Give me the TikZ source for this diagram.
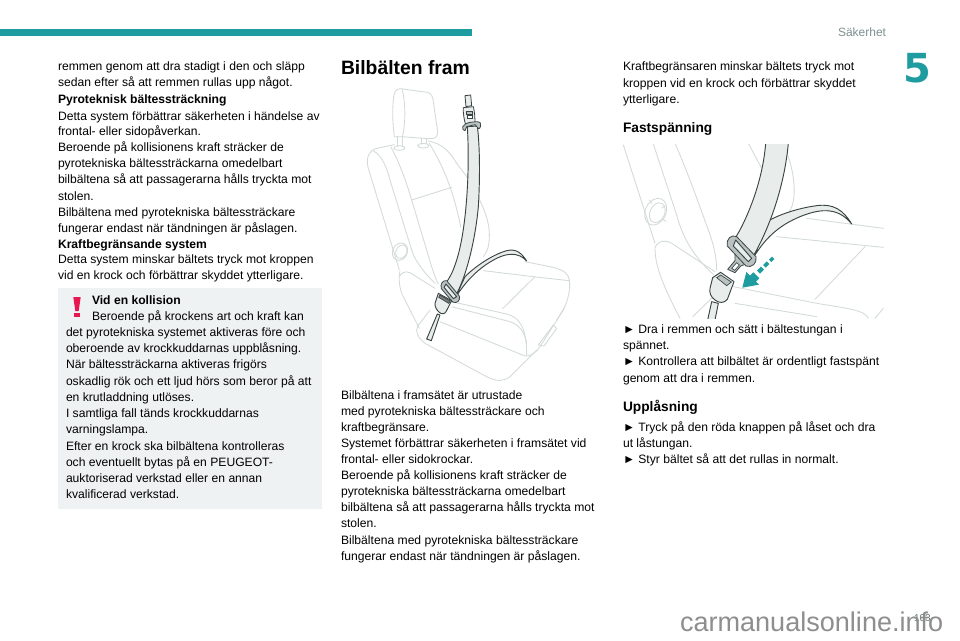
\documentclass[tikz,border=0pt]{standalone}
\usepackage{fontspec}
\setmainfont{Liberation Sans}
\newfontfamily\chapfont{DejaVu Sans}
\definecolor{teal5}{HTML}{1F9CA0}
\definecolor{note}{HTML}{EFF2F3}
\definecolor{seat}{HTML}{D3DBD8}
\definecolor{belt}{HTML}{E8ECEA}
\definecolor{dk}{HTML}{3A4444}
\definecolor{metal}{HTML}{B9C2C0}
\definecolor{sectxt}{HTML}{7F8F90}
\definecolor{wm}{HTML}{8E8E8E}
\definecolor{warn}{HTML}{E8174F}
\newcounter{tl}
\newcommand{\tl}[3]{\stepcounter{tl}\node[tx] (t\thetl) at (#1,#2) {#3};}
\newcommand{\hl}[3]{\stepcounter{tl}\node[hd] (t\thetl) at (#1,#2) {#3};}
\tikzset{
 every node/.style={inner sep=0,outer sep=0,anchor=base west},
 tx/.style={font=\fontsize{9.1pt}{9pt}\selectfont,text=black},
 hd/.style={font=\fontsize{9.1pt}{9pt}\selectfont\bfseries,text=black},
 h2/.style={font=\fontsize{10.3pt}{10pt}\selectfont\bfseries,text=black},
 seatline/.style={draw=seat,line width=.65pt,line join=round,line cap=round},
 beltline/.style={draw=dk,fill=belt,line width=.7pt,line join=round},
 metalpart/.style={draw=dk,fill=metal,line width=.6pt,line join=round},
 zoomA/.style={shift={(340,80)},x=0.25pt,y=-0.25pt},
 zoomB/.style={shift={(620,140)},x=0.25pt,y=-0.25pt},
}
\begin{document}
\begin{tikzpicture}[x=0.75pt,y=-0.75pt]
\useasboundingbox (0,0) rectangle (960,640);
\fill[white] (0,0) rectangle (960,640);
\fill[teal5] (0,29) rectangle (472,36);
\node[font=\fontsize{9pt}{9pt}\selectfont,text=sectxt] (sec) at (838,36) {Säkerhet};
\node[font=\chapfont\bfseries\fontsize{30pt}{30pt}\selectfont,text=teal5] (chap) at (903,82) {5};
% left column
\tl{58}{70}{remmen genom att dra stadigt i den och släpp}
\tl{58}{86}{sedan efter så att remmen rullas upp något.}
\hl{58}{103}{Pyroteknisk bältessträckning}
\tl{58}{120}{Detta system förbättrar säkerheten i händelse av}
\tl{58}{135}{frontal- eller sidopåverkan.}
\tl{58}{151}{Beroende på kollisionens kraft sträcker de}
\tl{58}{167}{pyrotekniska bältessträckarna omedelbart}
\tl{58}{183}{bilbältena så att passagerarna hålls tryckta mot}
\tl{58}{200}{stolen.}
\tl{58}{216}{Bilbältena med pyrotekniska bältessträckare}
\tl{58}{232}{fungerar endast när tändningen är påslagen.}
\hl{58}{248}{Kraftbegränsande system}
\tl{58}{263}{Detta system minskar bältets tryck mot kroppen}
\tl{58}{279}{vid en krock och förbättrar skyddet ytterligare.}
% note
\fill[note] (58,288) rectangle (322,509);
\fill[warn] (73.3,297) -- (80.7,297) -- (78.7,311) -- (75.3,311) -- cycle;
\fill[warn] (74.2,313) rectangle (80,317);
\hl{92}{304}{Vid en kollision}
\tl{92}{320}{Beroende på krockens art och kraft kan}
\tl{66}{336}{det pyrotekniska systemet aktiveras före och}
\tl{66}{352}{oberoende av krockkuddarnas uppblåsning.}
\tl{66}{368}{När bältessträckarna aktiveras frigörs}
\tl{66}{385}{oskadlig rök och ett ljud hörs som beror på att}
\tl{66}{401}{en krutladdning utlöses.}
\tl{66}{417}{I samtliga fall tänds krockkuddarnas}
\tl{66}{433}{varningslampa.}
\tl{66}{450}{Efter en krock ska bilbältena kontrolleras}
\tl{66}{466}{och eventuellt bytas på en PEUGEOT-}
\tl{66}{482}{auktoriserad verkstad eller en annan}
\tl{66}{498}{kvalificerad verkstad.}
% middle column
\node[font=\fontsize{14.5pt}{15pt}\selectfont\bfseries] (title) at (341,74) {Bilbälten fram};
\tl{341}{399}{Bilbältena i framsätet är utrustade}
\tl{341}{415}{med pyrotekniska bältessträckare och}
\tl{341}{431}{kraftbegränsare.}
\tl{341}{447}{Systemet förbättrar säkerheten i framsätet vid}
\tl{341}{463}{frontal- eller sidokrockar.}
\tl{341}{479}{Beroende på kollisionens kraft sträcker de}
\tl{341}{495}{pyrotekniska bältessträckarna omedelbart}
\tl{341}{511}{bilbältena så att passagerarna hålls tryckta mot}
\tl{341}{527}{stolen.}
\tl{341}{544}{Bilbältena med pyrotekniska bältessträckare}
\tl{341}{560}{fungerar endast när tändningen är påslagen.}
% right column
\tl{623}{70}{Kraftbegränsaren minskar bältets tryck mot}
\tl{623}{87}{kroppen vid en krock och förbättrar skyddet}
\tl{623}{103}{ytterligare.}
\node[h2] (fast) at (623,132) {Fastspänning};
\tl{623}{333}{► Dra i remmen och sätt i bältestungan i}
\tl{623}{349}{spännet.}
\tl{623}{365}{► Kontrollera att bilbältet är ordentligt fastspänt}
\tl{623}{382}{genom att dra i remmen.}
\node[h2] (upp) at (623,411) {Upplåsning};
\tl{623}{431}{► Tryck på den röda knappen på låset och dra}
\tl{623}{447}{ut låstungan.}
\tl{623}{463}{► Styr bältet så att det rullas in normalt.}
% seat illustration A
\begin{scope}[zoomA]
 \draw[seatline] (163,170) .. controls (155,110) and (158,50) .. (165,35) .. controls (172,25) and (185,25) .. (195,28) -- (262,37) .. controls (275,40) and (278,50) .. (280,65) -- (293,155) .. controls (293,172) and (285,178) .. (265,176) -- (185,170) .. controls (175,170) and (168,172) .. (163,170);
 \draw[seatline] (187,172) .. controls (197,130) and (197,70) .. (187,30);
 \draw[seatline] (173,170) -- (173,200) (188,172) -- (188,200) (245,175) -- (245,192) (260,176) -- (260,190);
 \draw[seatline] (178,204) ellipse [x radius=17,y radius=7];
 \draw[seatline] (250,197) ellipse [x radius=17,y radius=7];
 \draw[seatline] (163,194) -- (110,205) .. controls (85,212) and (78,235) .. (84,262) -- (178,570);
 \draw[seatline] (100,213) .. controls (125,225) and (140,260) .. (150,300) -- (215,510) .. controls (225,545) and (255,580) .. (285,610);
 \draw[seatline] (152,200) .. controls (180,250) and (200,310) .. (215,360) -- (275,560) .. controls (282,580) and (288,600) .. (295,612);
 \draw[seatline] (215,360) -- (335,322);
 \draw[seatline] (265,183) .. controls (305,190) and (330,215) .. (350,250) -- (395,310);
 \draw[seatline] (268,190) .. controls (310,260) and (340,330) .. (362,440);
 \draw[seatline] (395,310) .. controls (425,370) and (450,420) .. (448,470) .. controls (447,500) and (442,515) .. (430,530);
 \draw[seatline] (180,515) ellipse [x radius=22,y radius=27,rotate=-25];
 \draw[seatline] (184,515) ellipse [x radius=16,y radius=21,rotate=-25];
 \draw[seatline] (180,575) .. controls (175,590) and (178,620) .. (185,640) -- (238,745);
 \draw[seatline] (178,590) .. controls (185,578) and (195,572) .. (210,578) -- (285,625);
 \draw[seatline] (270,690) -- (232,740) .. controls (225,755) and (235,775) .. (255,790) -- (440,890) .. controls (470,905) and (490,905) .. (510,890) -- (590,810);
 \draw[seatline] (300,725) -- (555,828) .. controls (575,830) and (590,815) .. (600,800) -- (670,690) .. controls (685,660) and (692,625) .. (688,600) .. controls (685,580) and (670,570) .. (640,562) -- (555,545);
 \draw[seatline] (335,665) -- (500,702) .. controls (540,712) and (560,745) .. (560,825);
 \draw[seatline] (335,680) -- (510,725) .. controls (540,735) and (555,760) .. (560,790);
 \draw[seatline] (430,572) -- (580,590) -- (688,602);
 \draw[seatline] (488,686) -- (585,590);
 \draw[seatline] (595,795) -- (640,735) -- (650,745) -- (612,798) -- cycle;
 \draw[seatline] (650,720) -- (672,685);
 % lap belt
 \path[beltline] (345,655) .. controls (385,590) and (430,555) .. (470,535) .. controls (500,520) and (535,515) .. (560,543) .. controls (545,520) and (530,505) .. (500,512) .. controls (455,525) and (405,560) .. (375,590) -- cycle;
 % shoulder belt
 \path[beltline] (382,140) .. controls (390,270) and (380,460) .. (345,555) .. controls (335,585) and (322,605) .. (305,625) -- (345,650) .. controls (375,600) and (405,490) .. (415,380) .. controls (420,300) and (420,200) .. (412,138) -- cycle;
 % upper fitting
 \path[metalpart,fill=belt] (375,47) -- (392,45) -- (395,77) -- (378,80) -- cycle;
 \path[metalpart,fill=belt] (370,83) -- (400,80) .. controls (404,95) and (405,115) .. (405,130) -- (378,137) .. controls (372,120) and (369,100) .. (370,83) -- cycle;
 \draw[dk,line width=.6pt,fill=metal] (379,93) rectangle (397,102);
 \draw[dk,line width=.6pt,fill=white] (381,106) rectangle (397,115);
 \path[metalpart] (368,140) .. controls (372,128) and (405,122) .. (420,127) .. controls (424,136) and (421,146) .. (416,146) -- (405,134) -- (380,140) -- (375,152) .. controls (370,152) and (367,148) .. (368,140) -- cycle;
 % lower latch
 \path[metalpart] (304,626) .. controls (300,612) and (308,600) .. (320,602) -- (358,648) .. controls (362,662) and (350,672) .. (338,666) -- cycle;
 \path[beltline] (312,622) -- (318,612) -- (350,650) -- (340,656) -- cycle;
 \path[beltline] (295,640) -- (335,662) -- (318,695) .. controls (313,703) and (305,703) .. (298,697) .. controls (290,690) and (284,680) .. (285,670) -- cycle;
 \path[draw=dk,fill=dk!70!white,line width=.5pt] (300,645) -- (331,663) -- (326,670) -- (296,652) -- cycle;
 \path[beltline] (292,702) -- (300,705) -- (274,782) -- (260,777) -- cycle;
\end{scope}
% seat illustration B
\begin{scope}
 \clip (622,144) rectangle (884,318);
 \begin{scope}[zoomB]
 \draw[seatline] (10,15) -- (105,310);
 \draw[seatline] (100,12) -- (170,225) .. controls (185,280) and (210,340) .. (282,405);
 \draw[seatline] (165,10) .. controls (200,90) and (225,160) .. (265,270) .. controls (280,310) and (290,350) .. (290,390);
 \draw[seatline] (385,10) -- (425,85);
 \draw[seatline] (490,10) .. controls (515,70) and (525,120) .. (522,170) .. controls (520,190) and (515,205) .. (505,220);
 \draw[seatline] (105,322) .. controls (115,302) and (135,298) .. (155,310) -- (285,395);
 \draw[seatline] (105,322) .. controls (105,370) and (120,420) .. (180,535);
 \draw[seatline] (107,215) ellipse [x radius=31,y radius=42,rotate=-25];
 \draw[seatline] (112,218) ellipse [x radius=22,y radius=31,rotate=-25];
 \draw[seatline] (88,180) -- (95,190) (135,198) -- (126,204) (138,244) -- (128,238);
 \draw[seatline] (470,290) -- (790,322);
 \draw[seatline] (560,235) -- (790,265);
 \draw[seatline] (585,478) -- (735,320);
 \draw[seatline] (340,440) -- (590,490) .. controls (680,505) and (735,510) .. (745,535);
 \draw[seatline] (345,490) -- (590,530);
 \draw[seatline] (280,470) -- (218,530);
 \draw[seatline] (765,535) -- (790,505);
 % lap belt
 \path[beltline] (405,345) .. controls (440,290) and (480,255) .. (540,230) .. controls (590,210) and (650,195) .. (695,252) .. controls (670,210) and (640,190) .. (590,197) .. controls (530,205) and (475,225) .. (440,245) -- cycle;
 % shoulder belt
 \path[beltline] (437,10) .. controls (430,100) and (400,190) .. (365,260) .. controls (355,280) and (345,295) .. (335,310) -- (390,365) .. controls (430,300) and (490,170) .. (505,10) -- cycle;
 % latch plate tongue
 \path[metalpart] (345,338) -- (378,372) -- (362,378) -- (345,398) -- (323,388) -- (345,362) -- cycle;
 \path[draw=dk,fill=white,line width=.5pt] (335,385) -- (350,368) -- (358,375) -- (344,391) -- cycle;
 % latch plate ring
 \path[metalpart] (322,318) .. controls (318,295) and (335,282) .. (350,290) -- (408,350) .. controls (412,370) and (395,385) .. (378,378) -- cycle;
 \path[beltline] (340,318) -- (347,300) -- (395,355) -- (385,365) -- cycle;
 % buckle
 \path[beltline] (275,485) -- (295,490) -- (285,540) -- (263,540) -- cycle;
 \path[beltline] (278,413) -- (302,397) -- (342,425) -- (322,478) .. controls (312,490) and (298,490) .. (285,480) .. controls (272,470) and (268,460) .. (270,445) -- cycle;
 \path[draw=dk,fill=metal,line width=.5pt] (290,413) -- (302,405) -- (334,426) -- (320,437) -- cycle;
 % arrow
 \fill[teal5] (447,359) -- (456,350) -- (463,357) -- (454,366) -- cycle;
 \fill[teal5] (429,375) -- (440,364) -- (448,372) -- (437,383) -- cycle;
 \fill[teal5] (411,392) -- (423,380) -- (432,389) -- (420,401) -- cycle;
 \fill[teal5] (367,443) -- (379,396) -- (390,407) -- (400,397) -- (418,415) -- (408,425) -- (417,434) -- cycle;
 \end{scope}
\end{scope}
% footer
\node[font=\fontsize{7.5pt}{8pt}\selectfont,text=sectxt!80!black] (page) at (914,621) {103};
\node[font=\fontsize{20.3pt}{20pt}\selectfont,text=wm] (wmark) at (680,631) {carmanualsonline.info};
\end{tikzpicture}
\end{document}
